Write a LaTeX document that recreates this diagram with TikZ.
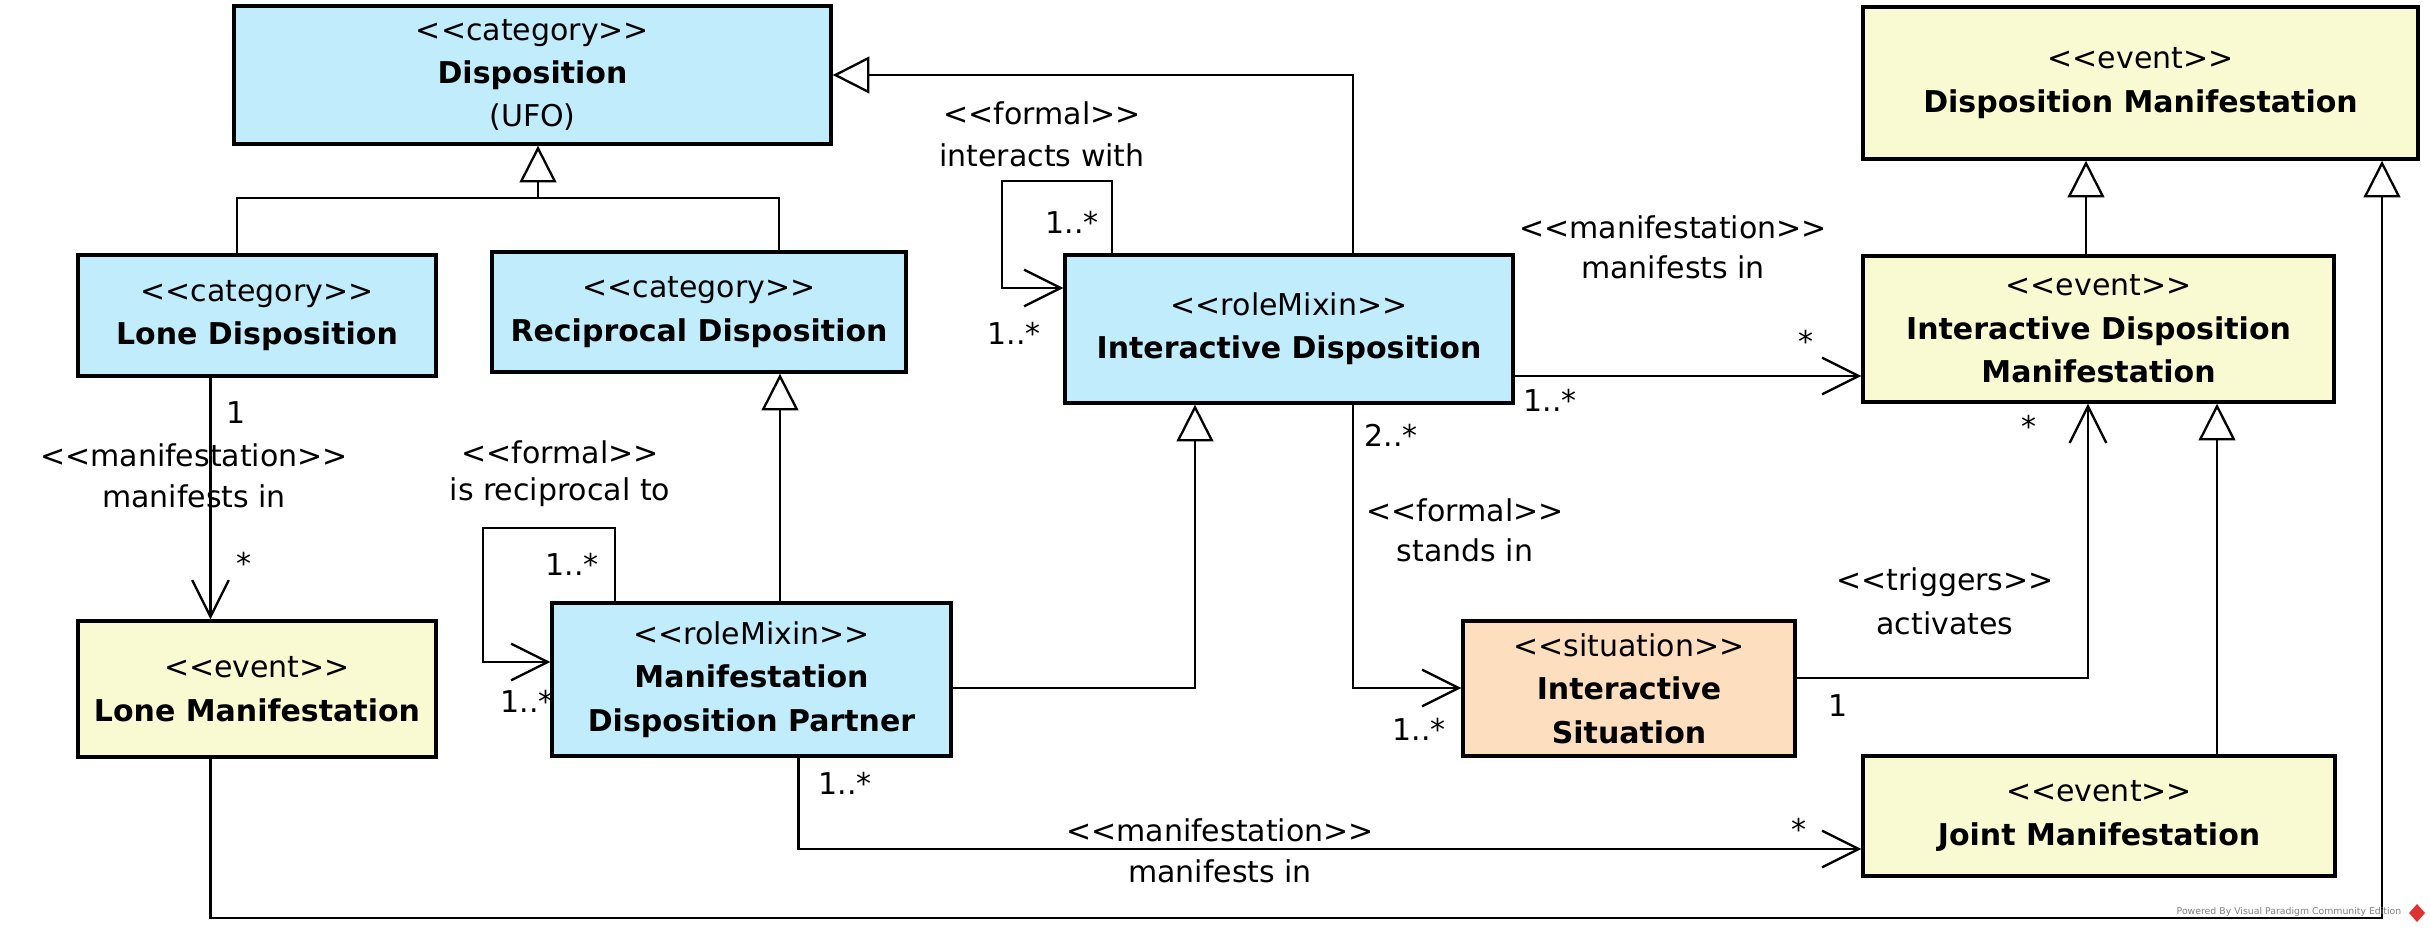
\documentclass[tikz,border=0pt]{standalone}
\usepackage{fontspec}
\newfontfamily\umlfont{DejaVu Sans}
\usetikzlibrary{arrows.meta}
\definecolor{cblue}{RGB}{192,236,252}
\definecolor{cyel}{RGB}{250,250,210}
\definecolor{corg}{RGB}{253,222,190}
\definecolor{vpgray}{RGB}{130,130,130}
\definecolor{vpred}{RGB}{225,50,50}
\newcommand\umlbox[7]{\node[cls,fill=#6,minimum width={(#4-#2)*0.3pt},minimum height={(#5-#3)*0.3pt}] (#1) at ({(#2+#4)/2},{(#3+#5)/2}) {#7};}
\begin{document}
\begin{tikzpicture}[x=0.3pt,y=-0.3pt,
 cls/.style={draw,line width=1pt,inner sep=0pt,align=center,font=\umlfont\fontsize{9}{13}\selectfont},
 lbl/.style={inner sep=0pt,align=center,font=\umlfont\fontsize{9}{13}\selectfont},
 conn/.style={line width=0.7pt},
 assoc/.style={conn,-{Straight Barb[length=11pt,width=11pt]}},
 gen/.style={conn,-{Triangle[open,length=11pt,width=11pt]}}]
\useasboundingbox (0,0) rectangle (2430,930);
% classes
\umlbox{disp}{234}{6}{831}{144}{cblue}{<<category>>\\\textbf{Disposition}\\(UFO)}
\umlbox{lone}{78}{255}{436}{376}{cblue}{<<category>>\\\textbf{Lone Disposition}}
\umlbox{recip}{492}{252}{906}{372}{cblue}{<<category>>\\\textbf{Reciprocal Disposition}}
\umlbox{intdisp}{1065}{255}{1513}{403}{cblue}{<<roleMixin>>\\\textbf{Interactive Disposition}}
\umlbox{dm}{1863}{7}{2418}{159}{cyel}{<<event>>\\\textbf{Disposition Manifestation}}
\umlbox{idm}{1863}{256}{2334}{402}{cyel}{<<event>>\\\textbf{Interactive Disposition}\\\textbf{Manifestation}}
\umlbox{lonem}{78}{621}{436}{757}{cyel}{<<event>>\\\textbf{Lone Manifestation}}
\umlbox{mdp}{552}{603}{951}{756}{cblue}{<<roleMixin>>\\\textbf{Manifestation}\\\textbf{Disposition Partner}}
\umlbox{is}{1463}{621}{1795}{756}{corg}{<<situation>>\\\textbf{Interactive}\\\textbf{Situation}}
\umlbox{jm}{1863}{756}{2335}{876}{cyel}{<<event>>\\\textbf{Joint Manifestation}}
% waypoints
\coordinate (tl) at (237,198);
\coordinate (tr) at (779,198);
\coordinate (j) at (538,198);
\coordinate (c1) at (1353,75);
\coordinate (l1) at (1112,181);
\coordinate (l2) at (1002,288);
\coordinate (m1) at (1513,376);
\coordinate (s1) at (1353,688);
\coordinate (g1) at (1195,688);
\coordinate (g2) at (780,500);
\coordinate (r1) at (615,528);
\coordinate (r2) at (483,662);
\coordinate (v1) at (210.5,500);
\coordinate (b1) at (798.5,849);
\coordinate (t1) at (2088,678);
\coordinate (h1) at (2217,600);
\coordinate (h2) at (2086,200);
\coordinate (k1) at (210.5,918);
\coordinate (k2) at (2382,918);
% connectors
\draw[conn] (lone.north -| tl) -- (tl) -- (tr) -- (recip.north -| tr);
\draw[gen] (j) -- (disp.south -| j);
\draw[gen] (intdisp.north -| c1) -- (c1) -- (disp.east |- c1);
\draw[assoc] (intdisp.north -| l1) -- (l1) -| (l2) -- (intdisp.west |- l2);
\draw[assoc] (intdisp.east |- m1) -- (idm.west |- m1);
\draw[assoc] (intdisp.south -| s1) -- (s1) -- (is.west |- s1);
\draw[gen] (mdp.east |- g1) -- (g1) -- (intdisp.south -| g1);
\draw[gen] (mdp.north -| g2) -- (recip.south -| g2);
\draw[assoc] (mdp.north -| r1) -- (r1) -| (r2) -- (mdp.west |- r2);
\draw[assoc] (lone.south -| v1) -- (lonem.north -| v1);
\draw[assoc] (mdp.south -| b1) -- (b1) -- (jm.west |- b1);
\draw[assoc] (is.east |- t1) -- (t1) -- (idm.south -| t1);
\draw[gen] (jm.north -| h1) -- (idm.south -| h1);
\draw[gen] (idm.north -| h2) -- (dm.south -| h2);
\draw[gen] (lonem.south -| k1) -- (k1) -- (k2) -- (dm.south -| k2);
% labels
\node[lbl] (a1) at (1042,113) {<<formal>>};
\node[lbl] (a2) at (1042,155) {interacts with};
\node[lbl] (a3) at (1072,222) {1..*};
\node[lbl] (a4) at (1014,333) {1..*};
\node[lbl] (a5) at (1673,227) {<<manifestation>>};
\node[lbl] (a6) at (1673,267) {manifests in};
\node[lbl] (a7) at (1806,341) {*};
\node[lbl] (a8) at (1550,400) {1..*};
\node[lbl] (b2) at (1391,435) {2..*};
\node[lbl] (b3) at (1465,510) {<<formal>>};
\node[lbl] (b4) at (1465,550) {stands in};
\node[lbl] (b5) at (1419,729) {1..*};
\node[lbl] (b6) at (1838,706) {1};
\node[lbl] (b7) at (1945,582) {<<triggers>>};
\node[lbl] (b8) at (1945,623) {activates};
\node[lbl] (b9) at (2029,426) {*};
\node[lbl] (c2) at (1220,830) {<<manifestation>>};
\node[lbl] (c3) at (1220,871) {manifests in};
\node[lbl] (c4) at (1799,829) {*};
\node[lbl] (c5) at (845,783) {1..*};
\node[lbl] (d1) at (236,413) {1};
\node[lbl] (d2) at (194,455) {<<manifestation>>};
\node[lbl] (d3) at (194,496) {manifests in};
\node[lbl] (d4) at (244,563) {*};
\node[lbl] (e1) at (560,452) {<<formal>>};
\node[lbl] (e2) at (560,492) {is reciprocal to};
\node[lbl] (e3) at (572,564) {1..*};
\node[lbl] (e4) at (527,701) {1..*};
% watermark
\node[inner sep=0pt,text=vpgray,font=\umlfont\fontsize{2.8}{3}\selectfont] (vp) at (2289,912) {Powered By Visual Paradigm Community Edition};
\fill[vpred] (2417,904) -- (2425,913) -- (2417,922) -- (2409,913) -- cycle;
\end{tikzpicture}
\end{document}
